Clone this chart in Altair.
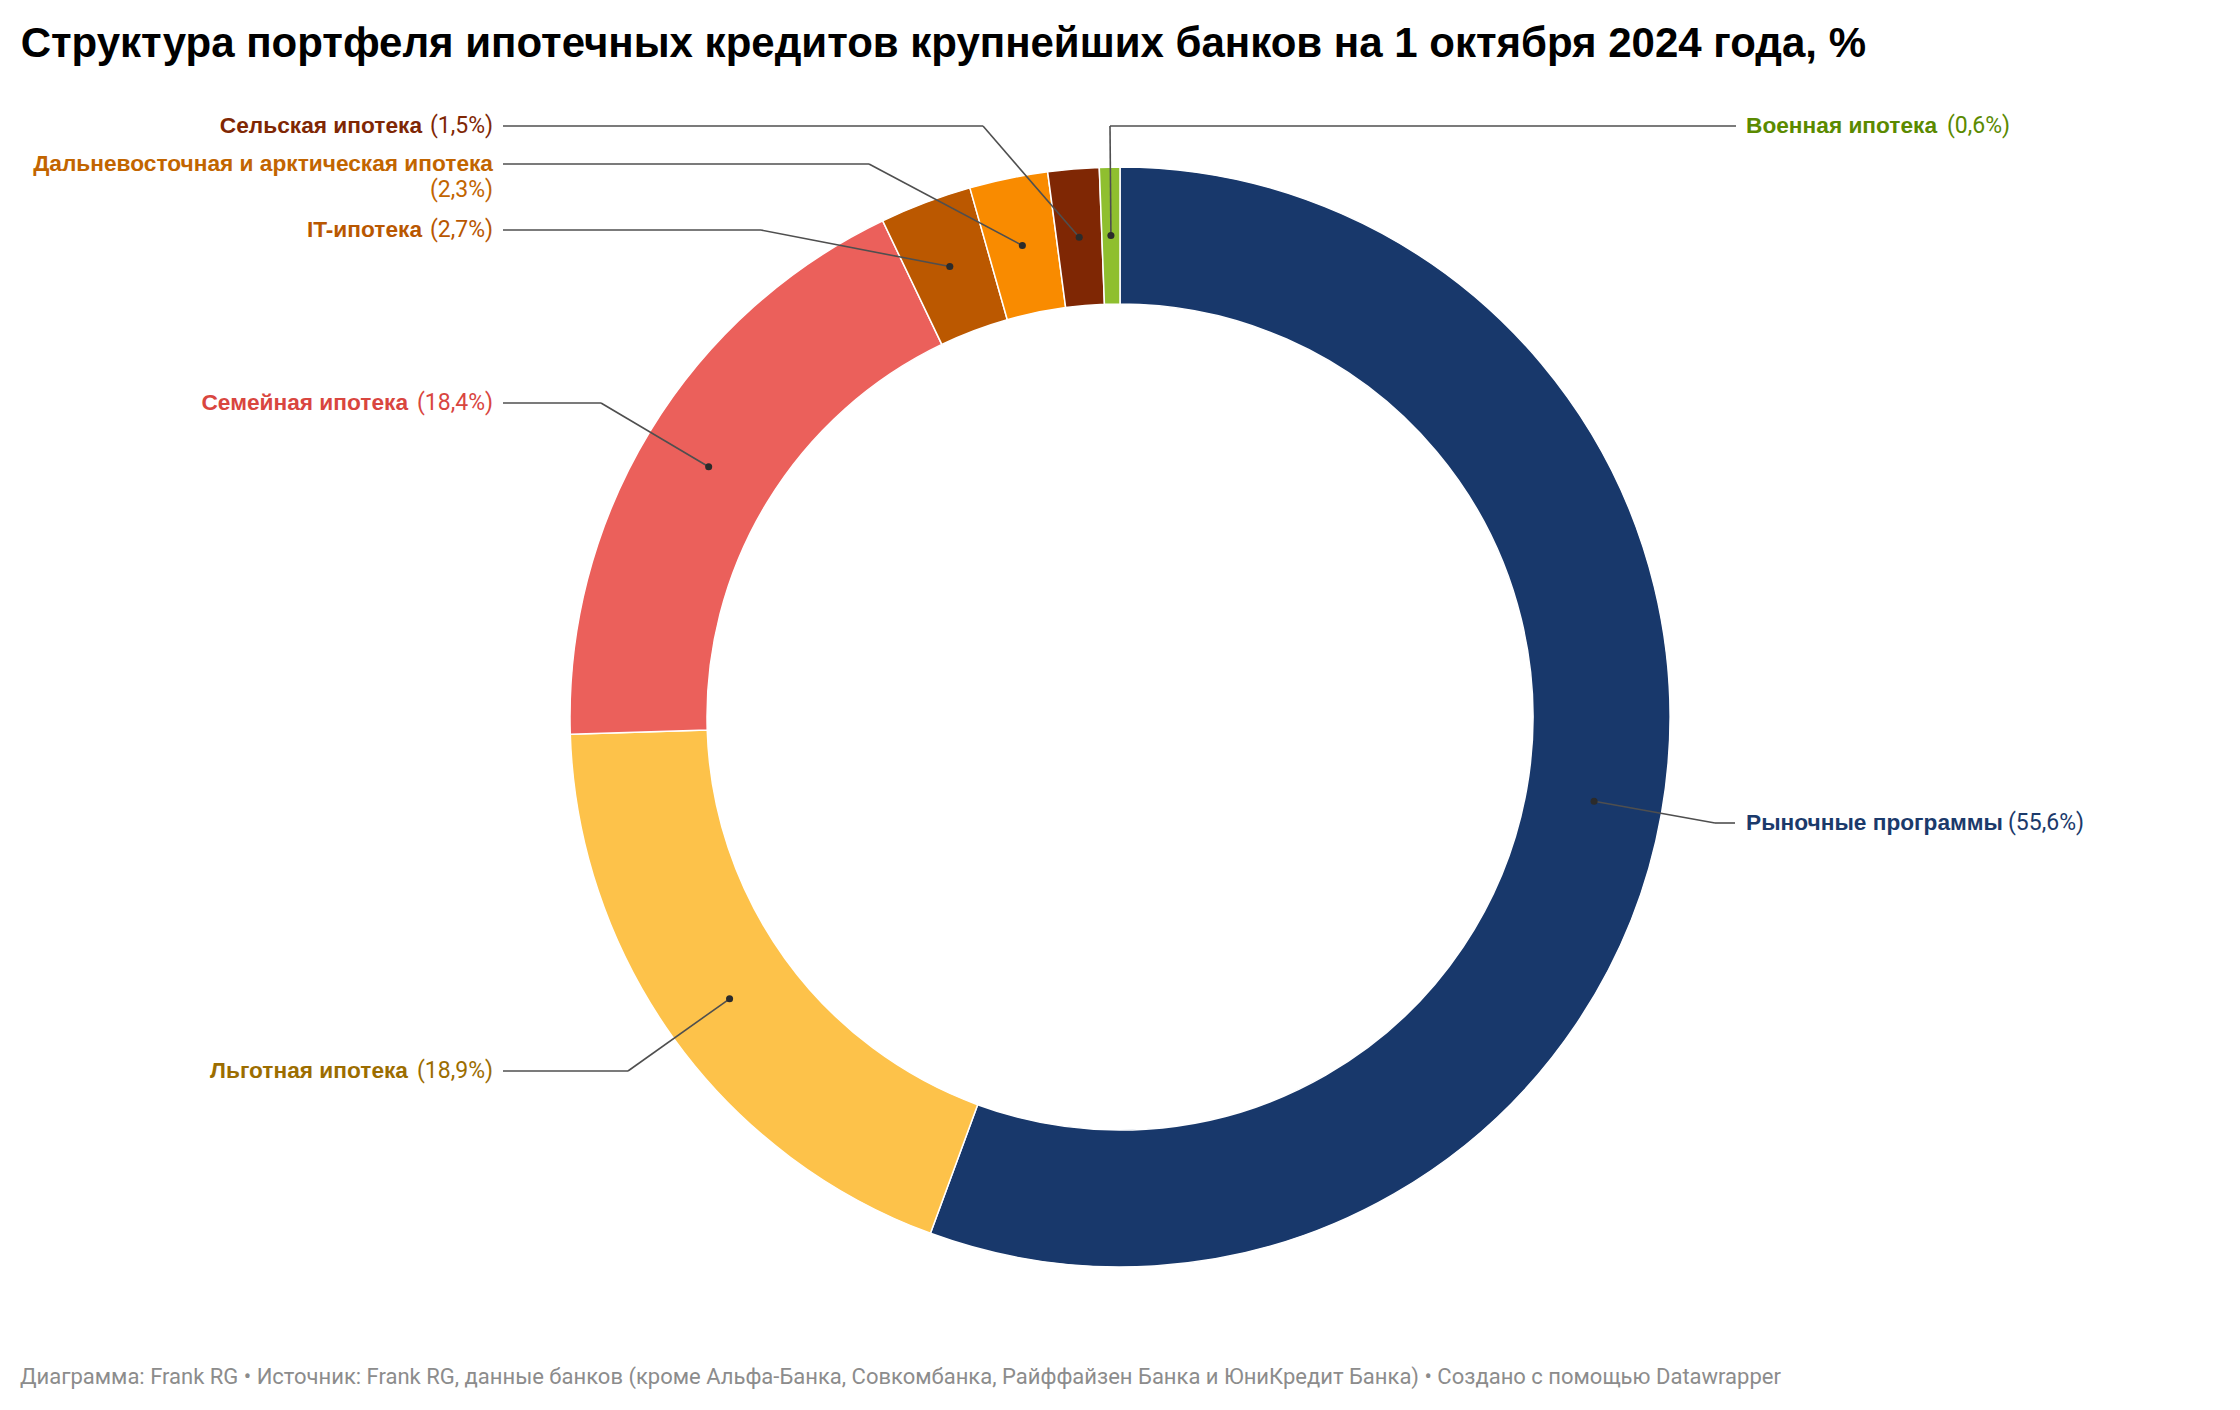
import altair as alt
import pandas as pd

# ---------------- data ----------------
categories = [
    "Рыночные программы",
    "Льготная ипотека",
    "Семейная ипотека",
    "IT-ипотека",
    "Дальневосточная и арктическая ипотека",
    "Сельская ипотека",
    "Военная ипотека",
]
shares = [55.6, 18.9, 18.4, 2.7, 2.3, 1.5, 0.6]
slice_colors = ["#18386b", "#fdc24a", "#eb605b", "#bb5800", "#f98b00", "#7f2704", "#8fbf2f"]
text_colors = ["#1b3a6b", "#9c6d00", "#d9463f", "#b95700", "#c26500", "#7f2704", "#5b8a00"]

title_text = "Структура портфеля ипотечных кредитов крупнейших банков на 1 октября 2024 года, %"
footer_text = ("Диаграмма: Frank RG • Источник: Frank RG, данные банков (кроме Альфа-Банка, "
               "Совкомбанка, Райффайзен Банка и ЮниКредит Банка) • Создано с помощью Datawrapper")

# ---------------- layout (page pixels) ----------------
PAD_TOP = 80
W, H = 2224, 1394 - PAD_TOP
X0, Y0 = 8, 8 + PAD_TOP
CX, CY = 1120, 717
R_OUT, R_IN = 550, 413
R_MID = (R_OUT + R_IN) / 2

side = ["right", "left", "left", "left", "left", "left", "right"]
label_y = [823, 1071, 403, 230, 164, 126, 126]
elbow_x = [1715, 628, 601, 761, 869, 983, 1110]
line_end_x = [1735, 503, 503, 503, 503, 503, 1736]
text_x = [1746, 493, 493, 493, 493, 493, 1746]
name_dx = [0, -85, -85, -71, 0, -71, 0]
pct_dx = [262, 0, 0, 0, 0, 0, 201]
pct_dy = [0, 0, 0, 0, 26, 0, 0]

pct_labels = ["(" + f"{v:.1f}".replace(".", ",") + "%)" for v in shares]

df = pd.DataFrame({
    "idx": list(range(len(categories))),
    "name": categories,
    "share": shares,
    "pct": pct_labels,
    "tcolor": text_colors,
    "side": side,
    "ly": label_y,
    "ex": elbow_x,
    "lx": line_end_x,
    "nx": [t + d for t, d in zip(text_x, name_dx)],
    "px_t": [t + d for t, d in zip(text_x, pct_dx)],
    "py_t": [y + d for y, d in zip(label_y, pct_dy)],
})

xs = alt.Scale(domain=[X0, X0 + W], nice=False, zero=False)
ys = alt.Scale(domain=[Y0, Y0 + H], nice=False, zero=False, reverse=True)

base = alt.Chart(df)

arcs = base.mark_arc(innerRadius=R_IN, outerRadius=R_OUT, stroke="white", strokeWidth=1.5).encode(
    theta=alt.Theta("share:Q", stack=True),
    order=alt.Order("idx:Q"),
    color=alt.Color("name:N", scale=alt.Scale(domain=categories, range=slice_colors), legend=None),
    x=alt.X(datum=CX, type="quantitative", scale=xs, axis=None),
    y=alt.Y(datum=CY, type="quantitative", scale=ys, axis=None),
)

geo = base.transform_window(
    cum="sum(share)", sort=[alt.SortField("idx")]
).transform_joinaggregate(
    total="sum(share)"
).transform_calculate(
    ang="(datum.cum - datum.share / 2) / datum.total * 2 * PI",
).transform_calculate(
    dotx=f"{CX} + {R_MID} * sin(datum.ang)",
    doty=f"{CY} - {R_MID} * cos(datum.ang)",
)

lead1 = geo.mark_rule(color="#4f4f4f", strokeWidth=1.6).encode(
    x=alt.X("dotx:Q", scale=xs, axis=None),
    y=alt.Y("doty:Q", scale=ys, axis=None),
    x2="ex:Q",
    y2="ly:Q",
)
lead2 = base.mark_rule(color="#4f4f4f", strokeWidth=1.6).encode(
    x=alt.X("ex:Q", scale=xs, axis=None),
    y=alt.Y("ly:Q", scale=ys, axis=None),
    x2="lx:Q",
    y2="ly:Q",
)
dots = geo.mark_circle(size=50, color="#2b2b2b", opacity=1).encode(
    x=alt.X("dotx:Q", scale=xs, axis=None),
    y=alt.Y("doty:Q", scale=ys, axis=None),
)

name_font = dict(font="Liberation Sans", fontWeight="bold", fontSize=22.7, baseline="middle")
pct_font = dict(font="Roboto", fontWeight="normal", fontSize=23, baseline="middle")
tcol = alt.Color("tcolor:N", scale=None)

left_names = base.transform_filter("datum.side == 'left'").mark_text(align="right", **name_font).encode(
    x=alt.X("nx:Q", scale=xs, axis=None), y=alt.Y("ly:Q", scale=ys, axis=None), text="name:N", color=tcol)
left_pcts = base.transform_filter("datum.side == 'left'").mark_text(align="right", **pct_font).encode(
    x=alt.X("px_t:Q", scale=xs, axis=None), y=alt.Y("py_t:Q", scale=ys, axis=None), text="pct:N", color=tcol)
right_names = base.transform_filter("datum.side == 'right'").mark_text(align="left", **name_font).encode(
    x=alt.X("nx:Q", scale=xs, axis=None), y=alt.Y("ly:Q", scale=ys, axis=None), text="name:N", color=tcol)
right_pcts = base.transform_filter("datum.side == 'right'").mark_text(align="left", **pct_font).encode(
    x=alt.X("px_t:Q", scale=xs, axis=None), y=alt.Y("py_t:Q", scale=ys, axis=None), text="pct:N", color=tcol)

footer = alt.Chart(pd.DataFrame({"t": [footer_text]})).mark_text(
    align="left", baseline="alphabetic", font="Roboto", fontSize=22, color="#8c8c8c"
).encode(
    x=alt.X(datum=20, type="quantitative", scale=xs, axis=None),
    y=alt.Y(datum=1384, type="quantitative", scale=ys, axis=None),
    text="t:N",
)

chart = alt.layer(
    arcs, lead1, lead2, dots, left_names, left_pcts, right_names, right_pcts, footer
).resolve_scale(color="independent").properties(
    width=W,
    height=H,
    autosize=alt.AutoSizeParams(type="none"),
    padding={"left": 0, "top": PAD_TOP, "right": 0, "bottom": 0},
    title=alt.Title(
        title_text, anchor="start", frame="group", font="Liberation Sans", fontSize=42,
        fontWeight="bold", color="#000000", dx=12.7, offset=22,
    ),
).configure(
    background="white",
    view=alt.ViewConfig(stroke=None),
)

chart.save("out.html", embed_options={"renderer": "svg", "actions": False})
